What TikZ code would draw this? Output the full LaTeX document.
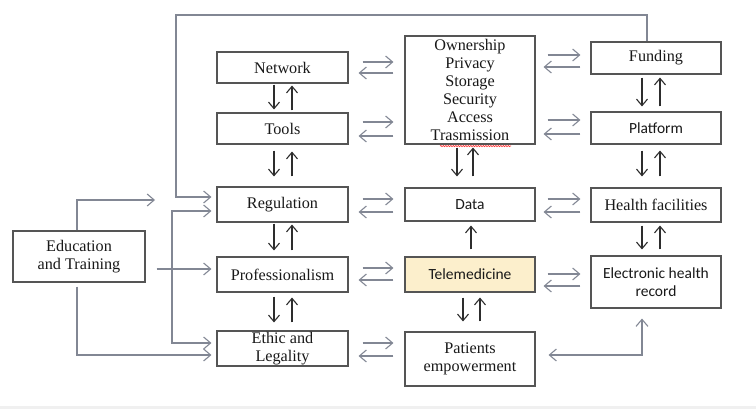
\documentclass[tikz,border=0pt]{standalone}
\usepackage{fontspec}
\setmainfont{Liberation Serif}
\newfontfamily\calibrifont{Carlito}
\usetikzlibrary{arrows.meta,calc,decorations.pathmorphing}
\definecolor{boxgray}{RGB}{85,85,85}
\definecolor{arrgray}{RGB}{130,135,148}
\definecolor{darkarr}{RGB}{45,45,45}
\definecolor{telefill}{RGB}{252,239,204}
\begin{document}
\begin{tikzpicture}[x=1pt,y=-1pt,
  box/.style={draw=boxgray, line width=1.1pt, inner sep=0pt, align=center,
    font=\fontsize{16.2}{18}\selectfont, text=black!90},
  sbox/.style={box, font=\calibrifont\fontsize{15.5}{18}\selectfont},
  garr/.style={draw=arrgray, line width=1.1pt,
    -{Straight Barb[length=7pt,width=12pt,line width=1.1pt]}},
  gboth/.style={draw=arrgray, line width=1.1pt,
    {Straight Barb[length=7pt,width=12pt,line width=1.1pt]}-{Straight Barb[length=7pt,width=12pt,line width=1.1pt]}},
  varr/.style={draw=darkarr, line width=1.1pt,
    -{Straight Barb[length=6.5pt,width=11pt,line width=1.1pt]}}
]
\useasboundingbox (0,0) rectangle (756,409);
\fill[white] (0,0) rectangle (756,409);
\fill[black!6] (0,406) rectangle (756,409);

% left column
\node[box, minimum width=131pt, minimum height=31pt] (net)   at (282.5,67.5)  {Network};
\node[box, minimum width=131pt, minimum height=31pt] (tools) at (282.5,128.5) {Tools};
\node[box, minimum width=131pt, minimum height=35pt] (reg)   at (282.5,204.5) {Regulation};
\node[box, minimum width=131pt, minimum height=35pt] (prof)  at (282.5,274.5) {Professionalism};
\node[box, minimum width=131pt, minimum height=35pt] (eth)   at (282.5,348.5) {Ethic and\\Legality};
\node[box, minimum width=132pt, minimum height=51pt] (edu)   at (79,256.5)    {Education\\and Training};

% middle column
\node[box, minimum width=130pt, minimum height=108pt] (own) at (470,90)
  {Ownership\\Privacy\\Storage\\Security\\Access\\Trasmission};
\node[sbox, minimum width=130pt, minimum height=33pt] (data) at (470,204.5) {Data};
\node[sbox, fill=telefill, minimum width=130pt, minimum height=35pt] (tele) at (470,274.5) {Telemedicine};
\node[box, minimum width=130pt, minimum height=54pt] (pat) at (470,359) {Patients\\empowerment};

% right column
\node[box, minimum width=130pt, minimum height=32pt] (fund) at (656,58)  {Funding};
\node[sbox, minimum width=130pt, minimum height=32pt] (plat) at (656,128) {Platform};
\node[box, minimum width=130pt, minimum height=34pt] (hlth) at (656,205) {Health facilities};
\node[sbox, minimum width=130pt, minimum height=52pt] (ehr) at (656,282) {Electronic health\\record};

% spelling mark under the last word
\draw[red!80, line width=0.6pt, decorate, decoration={snake,amplitude=0.6pt,segment length=2.5pt}]
  ([xshift=-30pt,yshift=-1.5pt]own.south) -- ([xshift=41pt,yshift=-1.5pt]own.south);

% vertical links, left column
\draw[varr, shorten <=1pt, shorten >=3pt] ([xshift=-8.5pt]net.south) -- ([xshift=-8.5pt]tools.north);
\draw[varr, shorten <=2pt, shorten >=2pt] ([xshift=9.5pt]tools.north) -- ([xshift=9.5pt]net.south);
\draw[varr, shorten <=6pt, shorten >=10pt] ([xshift=-8.5pt]tools.south) -- ([xshift=-8.5pt]reg.north);
\draw[varr, shorten <=10pt, shorten >=7pt] ([xshift=9.5pt]reg.north) -- ([xshift=9.5pt]tools.south);
\draw[varr, shorten <=1pt, shorten >=6pt] ([xshift=-8.5pt]reg.south) -- ([xshift=-8.5pt]prof.north);
\draw[varr, shorten <=6pt, shorten >=2pt] ([xshift=9.5pt]prof.north) -- ([xshift=9.5pt]reg.south);
\draw[varr, shorten <=4pt, shorten >=8pt] ([xshift=-8.5pt]prof.south) -- ([xshift=-8.5pt]eth.north);
\draw[varr, shorten <=8pt, shorten >=5pt] ([xshift=9.5pt]eth.north) -- ([xshift=9.5pt]prof.south);

% vertical links, middle column
\draw[varr, shorten <=3pt, shorten >=11pt] ([xshift=-13pt]own.south) -- ([xshift=-13pt]data.north);
\draw[varr, shorten <=11pt, shorten >=3pt] ([xshift=3pt]data.north) -- ([xshift=3pt]own.south);
\draw[varr, shorten <=7pt, shorten >=4pt] ([xshift=1pt]tele.north) -- ([xshift=1pt]data.south);
\draw[varr, shorten <=5pt, shorten >=10pt] ([xshift=-7pt]tele.south) -- ([xshift=-7pt]pat.north);
\draw[varr, shorten <=10pt, shorten >=5pt] ([xshift=10pt]pat.north) -- ([xshift=10pt]tele.south);

% vertical links, right column
\draw[varr, shorten <=3pt, shorten >=5pt] ([xshift=-14pt]fund.south) -- ([xshift=-14pt]plat.north);
\draw[varr, shorten <=5pt, shorten >=3pt] ([xshift=4pt]plat.north) -- ([xshift=4pt]fund.south);
\draw[varr, shorten <=6pt, shorten >=11pt] ([xshift=-14pt]plat.south) -- ([xshift=-14pt]hlth.north);
\draw[varr, shorten <=11pt, shorten >=6pt] ([xshift=4pt]hlth.north) -- ([xshift=4pt]plat.south);
\draw[varr, shorten <=3pt, shorten >=6pt] ([xshift=-14pt]hlth.south) -- ([xshift=-14pt]ehr.north);
\draw[varr, shorten <=6pt, shorten >=3pt] ([xshift=4pt]ehr.north) -- ([xshift=4pt]hlth.south);

% horizontal pairs, left to middle
\draw[garr, shorten <=14pt, shorten >=11pt] ([yshift=5.5pt]net.east) -- ([yshift=5.5pt]net.east -| own.west);
\draw[garr, shorten <=11pt, shorten >=10pt] ([yshift=-5.5pt]net.east -| own.west) -- ([yshift=-5.5pt]net.east);
\draw[garr, shorten <=14pt, shorten >=11pt] ([yshift=6.5pt]tools.east) -- ([yshift=6.5pt]tools.east -| own.west);
\draw[garr, shorten <=11pt, shorten >=10pt] ([yshift=-7.5pt]tools.east -| own.west) -- ([yshift=-7.5pt]tools.east);
\draw[garr, shorten <=14pt, shorten >=11pt] ([yshift=5.5pt]reg.east) -- ([yshift=5.5pt]data.west);
\draw[garr, shorten <=11pt, shorten >=10pt] ([yshift=-7.5pt]data.west) -- ([yshift=-7.5pt]reg.east);
\draw[garr, shorten <=14pt, shorten >=11pt] ([yshift=6.5pt]prof.east) -- ([yshift=6.5pt]tele.west);
\draw[garr, shorten <=11pt, shorten >=10pt] ([yshift=-5.5pt]tele.west) -- ([yshift=-5.5pt]prof.east);
\draw[garr, shorten <=14pt, shorten >=11pt] ([yshift=5.5pt]eth.east) -- ([yshift=5.5pt]eth.east -| pat.west);
\draw[garr, shorten <=11pt, shorten >=10pt] ([yshift=-7.5pt]eth.east -| pat.west) -- ([yshift=-7.5pt]eth.east);

% horizontal pairs, middle to right
\draw[garr, shorten <=12pt, shorten >=10pt] ([yshift=3pt]fund.west -| own.east) -- ([yshift=3pt]fund.west);
\draw[garr, shorten <=10pt, shorten >=8pt] ([yshift=-9pt]fund.west) -- ([yshift=-9pt]fund.west -| own.east);
\draw[garr, shorten <=12pt, shorten >=10pt] ([yshift=8pt]plat.west -| own.east) -- ([yshift=8pt]plat.west);
\draw[garr, shorten <=10pt, shorten >=8pt] ([yshift=-6pt]plat.west) -- ([yshift=-6pt]plat.west -| own.east);
\draw[garr, shorten <=12pt, shorten >=10pt] ([yshift=6pt]hlth.west -| data.east) -- ([yshift=6pt]hlth.west);
\draw[garr, shorten <=10pt, shorten >=8pt] ([yshift=-7pt]hlth.west) -- ([yshift=-7pt]hlth.west -| data.east);
\draw[garr, shorten <=12pt, shorten >=10pt] ([yshift=8pt]ehr.west -| tele.east) -- ([yshift=8pt]ehr.west);
\draw[garr, shorten <=10pt, shorten >=8pt] ([yshift=-4pt]ehr.west) -- ([yshift=-4pt]ehr.west -| tele.east);

% patients <-> electronic health record
\draw[gboth] ([xshift=13pt,yshift=4pt]pat.east) -| ([xshift=-14pt,yshift=-10pt]ehr.south);

% feedback loop from funding back to regulation
\coordinate (loopTL) at (176,15);
\draw[garr] ([xshift=-9pt]fund.north) |- (loopTL) |- ([xshift=-5pt,yshift=7.5pt]reg.west);

% bracket feeding regulation and ethics
\coordinate (brk) at (172,343);
\draw[gboth] ([xshift=-5pt,yshift=-6.5pt]reg.west) -| (brk) -- ([xshift=-5pt,yshift=5.5pt]eth.west);

% education and training outputs
\coordinate (eduT) at (155,200);
\draw[garr] ([xshift=-2pt]edu.north) |- (eduT);
\draw[garr, shorten <=11pt, shorten >=5pt] ([yshift=5.5pt]prof.west -| edu.east) -- ([yshift=5.5pt]prof.west);
\draw[garr, shorten <=4pt] ([xshift=-2pt]edu.south) |- ([xshift=-5pt,yshift=-6.5pt]eth.west);
\end{tikzpicture}
\end{document}
